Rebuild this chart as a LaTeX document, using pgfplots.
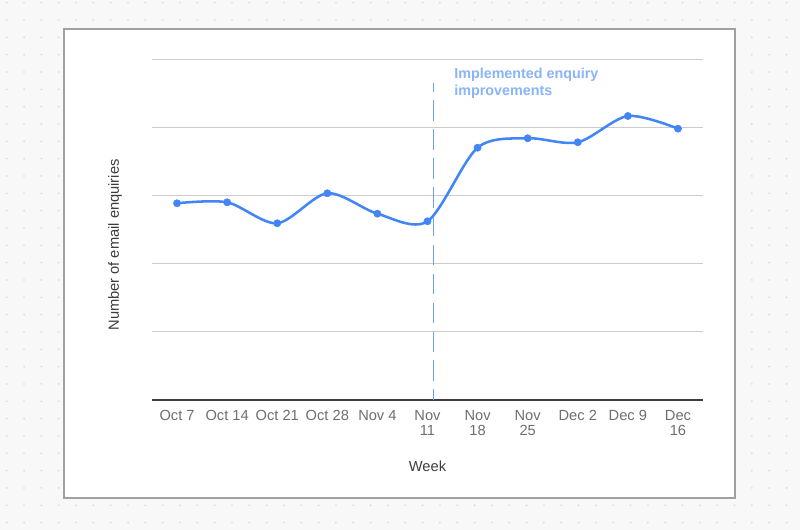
\documentclass[border=0pt]{standalone}
\usepackage{pgfplots}
\pgfplotsset{compat=1.18}
\usepackage{fontspec}
\setmainfont{Liberation Sans}
\definecolor{bg}{HTML}{F8F8F8}
\definecolor{dotc}{HTML}{D8D8D8}
\definecolor{panelborder}{HTML}{A0A0A0}
\definecolor{gridc}{HTML}{CCCCCC}
\definecolor{linec}{HTML}{4285F4}
\definecolor{annc}{HTML}{8AB4F8}
\definecolor{dashc}{HTML}{6F9FF5}
\definecolor{tickc}{HTML}{6F6F6F}
\definecolor{labc}{HTML}{3C3C3C}
\begin{document}
\begin{tikzpicture}
\useasboundingbox (0,0) rectangle (600pt,397.5pt);
\begin{scope}[x=0.75pt,y=-0.75pt,shift={(0pt,397.5pt)}]
\fill[bg] (0,0) rectangle (800,530);
\foreach \i in {0,...,46}{\foreach \j in {0,...,30}{\fill[dotc] ({6.7+17.33*\i},{2.7+17.33*\j}) circle[radius=0.9];}}
\filldraw[fill=white,draw=panelborder,line width=1.1pt] (64,29) rectangle (735,498);
\end{scope}
\begin{axis}[
  at={(114pt,97.5pt)}, anchor=south west, scale only axis,
  width=413.25pt, height=255pt,
  xmin=-0.5, xmax=10.5, ymin=0, ymax=5,
  xtick={0,...,10},
  xticklabels={Oct 7,Oct 14,Oct 21,Oct 28,Nov 4,Nov\\11,Nov\\18,Nov\\25,Dec 2,Dec 9,Dec\\16},
  xticklabel style={align=center, font=\fontsize{11}{11}\selectfont, text=tickc, yshift=-4.5pt},
  ytick={1,2,3,4,5}, yticklabels={},
  extra y ticks={0}, extra y tick labels={},
  extra y tick style={grid style={labc, line width=0.9pt}},
  ymajorgrids, grid style={gridc, line width=0.75pt},
  axis line style={draw=none}, tick style={draw=none},
  xlabel={Week},
  xlabel style={font=\fontsize{11}{13}\selectfont, text=labc, at={(axis description cs:0.5,-0.196)}, anchor=center},
  ylabel={Number of email enquiries},
  ylabel style={font=\fontsize{11}{13}\selectfont, text=labc, at={(axis description cs:-0.067,0.456)}, anchor=center},
  clip=false,
]
\addplot[color=dashc, line width=1.2pt, dash pattern=on 15.5pt off 6.2pt, dash phase=9pt, forget plot] coordinates {(5.12,4.66) (5.12,0)};
\addplot[linec, line width=1.9pt, smooth, mark=*, mark size=2.7pt, mark options={solid, fill=linec, draw=linec, line width=0.4pt}] coordinates {
(0,2.893) (1,2.907) (2,2.599) (3,3.040) (4,2.740) (5,2.628) (6,3.710) (7,3.849) (8,3.790) (9,4.176) (10,3.990)};
\node[anchor=north west, inner sep=0pt, align=left, text=annc, font=\bfseries\fontsize{10.75}{13}\selectfont] at (axis cs:5.53,4.89) {Implemented enquiry\\improvements};
\end{axis}
\end{tikzpicture}
\end{document}
